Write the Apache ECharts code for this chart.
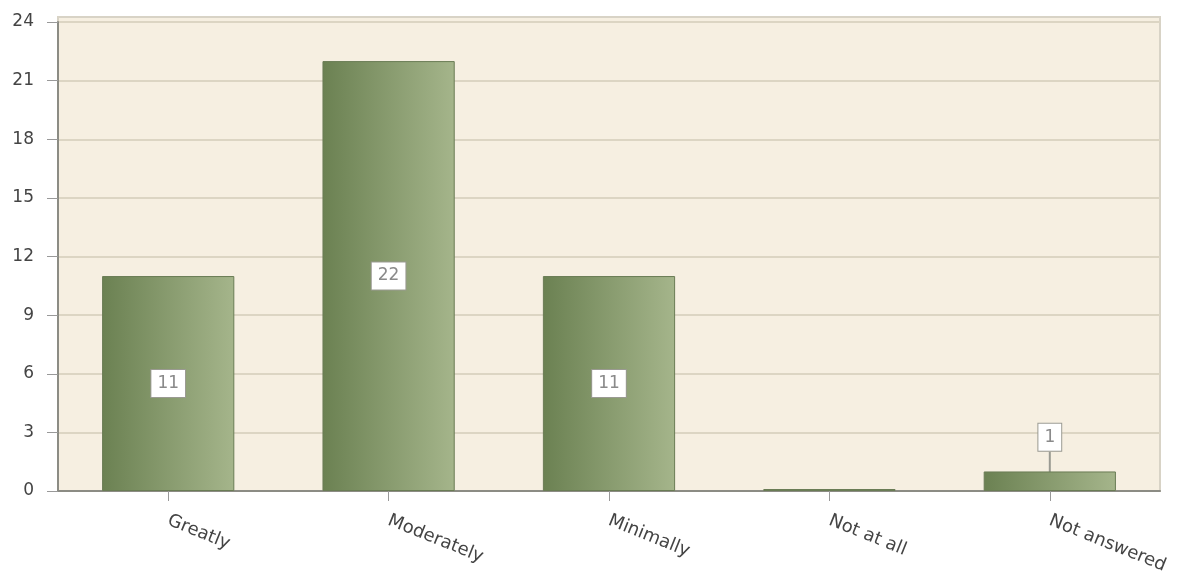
<!DOCTYPE html>
<html>
<head>
<meta charset="utf-8">
<script src="https://cdn.jsdelivr.net/npm/echarts@6/dist/echarts.min.js"></script>
<style>html,body{margin:0;padding:0;background:#fff;}#c{width:1186px;height:583px;}</style>
</head>
<body>
<div id="c"></div>
<script>
const categories = ['Greatly', 'Moderately', 'Minimally', 'Not at all', 'Not answered'];
const values = [11, 22, 11, 0, 1];
const yTicks = { min: 0, max: 24, interval: 3 };

const chart = echarts.init(document.getElementById('c'));
const grad = new echarts.graphic.LinearGradient(0, 0, 1, 0, [
  { offset: 0, color: '#6b8152' },
  { offset: 1, color: '#a5b58b' }
]);
chart.setOption({
  animation: false,
  graphic: [{
    type: 'rect', z: -10, silent: true,
    shape: { x: 58, y: 17, width: 1102, height: 474 },
    style: { fill: '#f6efe1', stroke: '#d8d3c6', lineWidth: 2 }
  }],
  grid: { left: 58, right: 26, top: 22, bottom: 92 },
  xAxis: {
    type: 'category',
    data: categories,
    axisLine: { lineStyle: { color: '#8c8c84', width: 2 } },
    axisTick: { show: true, alignWithLabel: true, length: 10, lineStyle: { color: '#999' } },
    axisLabel: {
      rotate: -22, margin: 29, fontSize: 18, color: '#444',
      fontFamily: 'DejaVu Sans', interval: 0
    }
  },
  yAxis: {
    type: 'value',
    min: yTicks.min, max: yTicks.max, interval: yTicks.interval,
    axisLine: { show: true, lineStyle: { color: '#8c8c84', width: 2 } },
    axisTick: { show: true, length: 11, lineStyle: { color: '#999' } },
    axisLabel: { fontSize: 17, color: '#444', fontFamily: 'DejaVu Sans', margin: 24 },
    splitLine: { lineStyle: { color: '#dcd5c3', width: 2 } }
  },
  series: [{
    type: 'bar',
    data: values.map(v => ({ value: v, label: { show: v !== 0 } })),
    barWidth: '60%',
    barMinHeight: 2,
    itemStyle: { color: grad, borderColor: '#6a7c55', borderWidth: 1 },
    label: {
      show: true, position: 'inside',
      backgroundColor: '#fff', borderColor: '#9a9a92', borderWidth: 1,
      padding: [6, 6, 4, 6], color: '#8a8a8a', fontSize: 17, fontFamily: 'DejaVu Sans'
    },
    labelLayout: function (params) {
      if (params.dataIndex === 4) return { dy: -44 };
      return {};
    },
    labelLine: { show: true, lineStyle: { color: '#9a9a92', width: 2 } }
  }]
});
</script>
</body>
</html>
